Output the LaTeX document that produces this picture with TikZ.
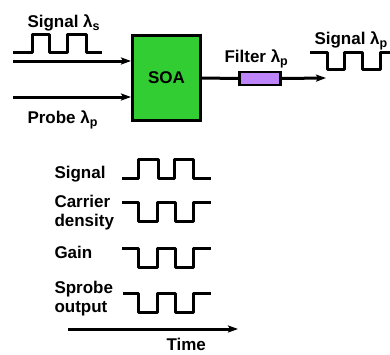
\documentclass[tikz,border=0pt]{standalone}
\usepackage{fontspec}
\setmainfont{Liberation Sans}
\usepackage{tikz}
\usetikzlibrary{positioning, arrows.meta}

\definecolor{soagreen}{RGB}{50,205,50}
\definecolor{filterviolet}{RGB}{190,132,250}
\newcommand{\lamsub}[1]{λ\raisebox{-3.5pt}{\fontsize{12.5}{13}\selectfont #1}}

\begin{document}
\begin{tikzpicture}[x=1pt, y=-1pt, line width=3pt, >={Stealth[length=10pt, width=7pt, inset=2pt]},
    font=\fontsize{17}{19}\selectfont\bfseries]
      \tikzstyle{label}=[inner sep=0pt, anchor=base west, align=left]
      \tikzstyle{twolines}=[inner sep=0pt, anchor=north west, align=left]
      \tikzstyle{wave}=[line join=round]
      \useasboundingbox (0,0) rectangle (390,354);

      % Nodes
      \node[draw, fill=soagreen, minimum width=68pt, minimum height=85pt] (soa) at (166.5,78) {SOA};
      \node[draw, fill=filterviolet, minimum width=41pt, minimum height=13pt, inner sep=0pt, line width=2.4pt] (filter) at (260,78.5) {};
      \coordinate (in1) at (13,61);
      \coordinate (in2) at (13,97);
      \coordinate (out) at (326,78);

      \node[label] (sigin) at (26,27) {Signal \lamsub{s}};
      \node[label] (probe) at (26,123) {Probe \lamsub{p}};
      \node[label] (filt) at (223,62) {Filter \lamsub{p}};
      \node[label] (sigout) at (313,44) {Signal \lamsub{p}};

      \node[label] (lsig) at (53,178) {Signal};
      \node[twolines] (lcar) at (53,193.6) {Carrier\\density};
      \node[label] (lgain) at (53,258) {Gain};
      \node[twolines] (lprobe) at (53,279.6) {Sprobe\\output};
      \node[label] (ltime) at (165,350.5) {Time};

      % Edges
      \draw[->] (in1) -- (in1 -| soa.west);
      \draw[->] (in2) -- (in2 -| soa.west);
      \draw (soa.east) -- (filter.west);
      \draw[->] (filter.east) -- (out);

      % Pulses
      \draw[wave] (13,52) -- (32,52) -- (32,34) -- (49,34) -- (49,52) -- (67,52) -- (67,34) -- (86,34) -- (86,52) -- (102,52);
      \draw[wave] (310,52) -- (327,52) -- (327,69) -- (344,69) -- (344,52) -- (362,52) -- (362,69) -- (380,69) -- (380,52) -- (395,52);

      \draw[wave] (122,178) -- (138,178) -- (138,159) -- (158,159) -- (158,178) -- (174,178) -- (174,159) -- (193,159) -- (193,178) -- (211,178);
      \draw[wave] (122,202) -- (138,202) -- (138,221) -- (157,221) -- (157,202) -- (175,202) -- (175,221) -- (193,221) -- (193,202) -- (211,202);
      \draw[wave] (122,248) -- (138,248) -- (138,267) -- (157,267) -- (157,248) -- (175,248) -- (175,267) -- (193,267) -- (193,248) -- (211,248);
      \draw[wave] (123,293) -- (138,293) -- (138,312) -- (157,312) -- (157,293) -- (175,293) -- (175,312) -- (193,312) -- (193,293) -- (211,293);

      % Time axis
      \coordinate (t0) at (68,329);
      \coordinate (t1) at (238,329);
      \draw[->] (t0) -- (t1);
    \end{tikzpicture}
\end{document}
